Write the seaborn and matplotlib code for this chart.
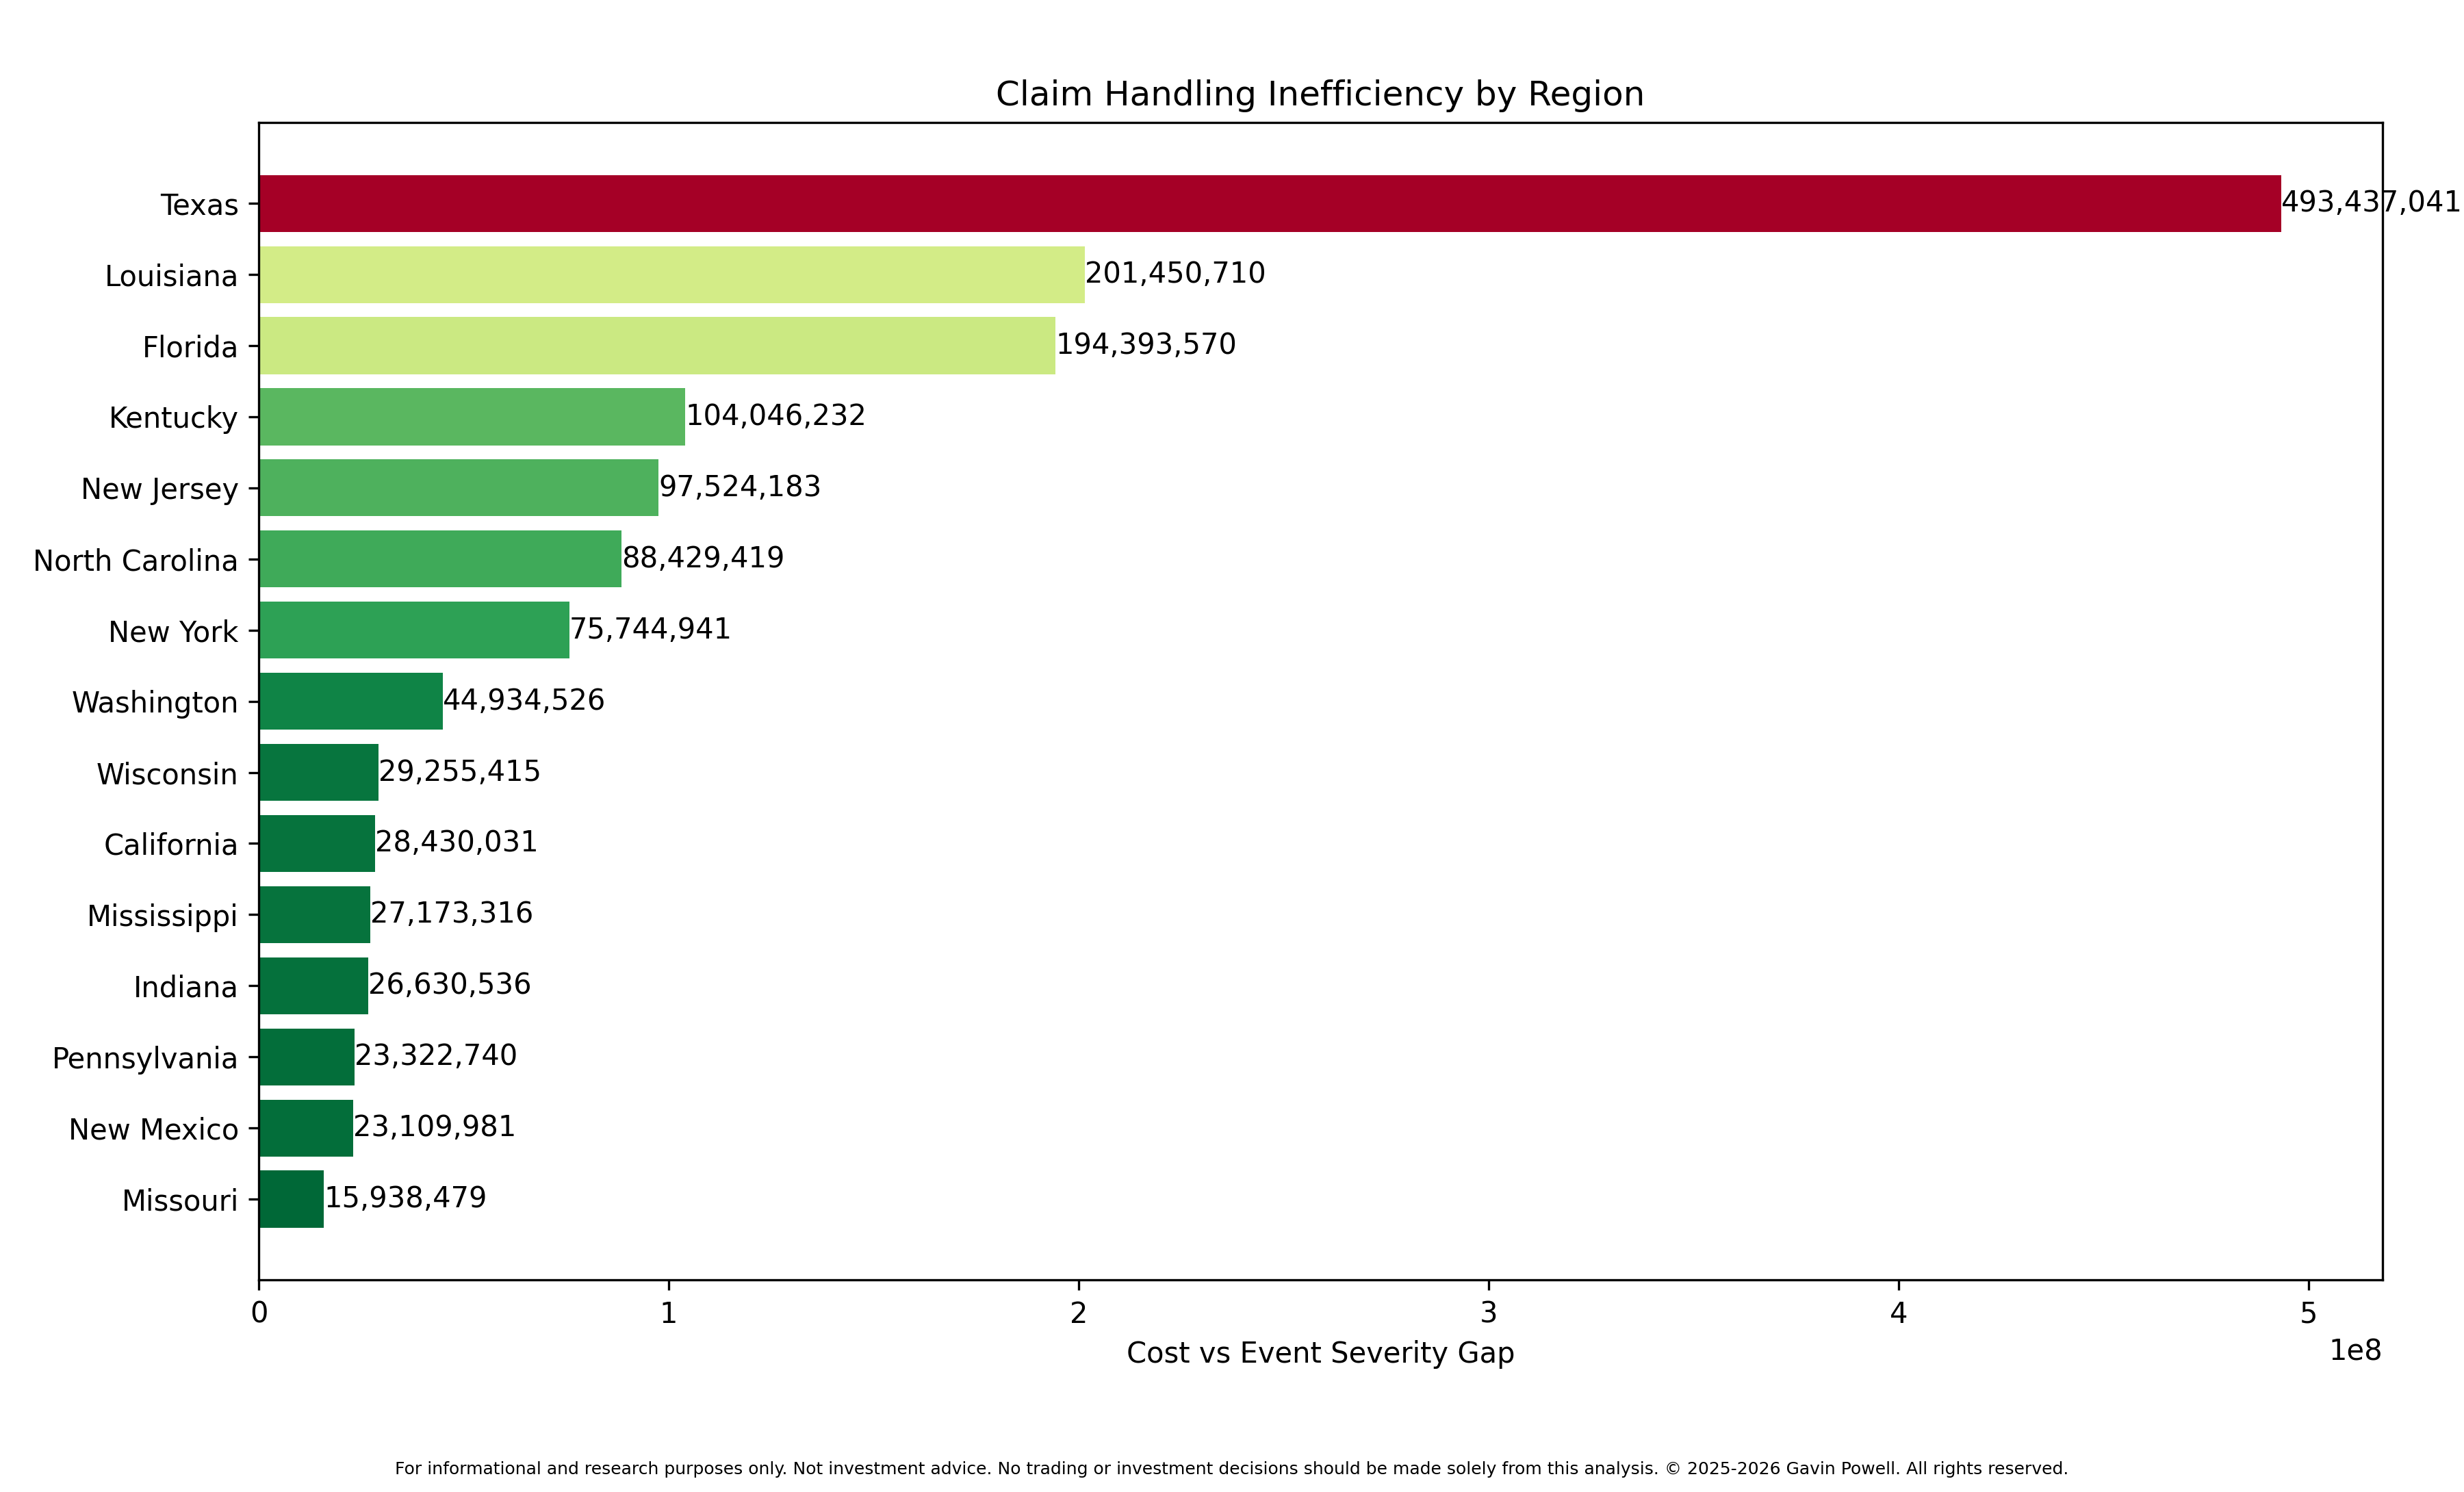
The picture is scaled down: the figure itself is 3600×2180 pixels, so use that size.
import matplotlib
matplotlib.use("Agg")
import matplotlib.pyplot as plt
import numpy as np
import pandas as pd
import seaborn as sns

regions = ["Texas", "Louisiana", "Florida", "Kentucky", "New Jersey", "North Carolina",
           "New York", "Washington", "Wisconsin", "California", "Mississippi", "Indiana",
           "Pennsylvania", "New Mexico", "Missouri"]
gaps = [493437041, 201450710, 194393570, 104046232, 97524183, 88429419, 75744941,
        44934526, 29255415, 28430031, 27173316, 26630536, 23322740, 23109981, 15938479]

df = pd.DataFrame({"region": regions, "gap": gaps})
vals = np.array(gaps, dtype=float)
norm = (vals - vals.min()) / (vals.max() - vals.min())
cmap = plt.get_cmap("RdYlGn_r")
palette = [cmap(v) for v in norm]

fig = plt.figure(figsize=(12, 7.2667), dpi=300)
ax = fig.add_axes([0.105, 0.142, 0.862, 0.776])
sns.barplot(data=df, x="gap", y="region", hue="region", palette=palette,
            legend=False, orient="h", width=0.8, saturation=1, ax=ax)
for c in ax.containers:
    ax.bar_label(c, labels=[f"{v:,.0f}" for v in c.datavalues], fontsize=10, padding=0)

n = len(regions)
ax.set_ylim(n - 1 + 1.14, -1.14)
ax.set_xlim(0, vals.max() * 1.05)
ax.set_title("Claim Handling Inefficiency by Region", fontsize=12)
ax.set_xlabel("Cost vs Event Severity Gap")
ax.set_ylabel("")
fig.text(0.5, 0.012, "For informational and research purposes only. Not investment advice. "
         "No trading or investment decisions should be made solely from this analysis. "
         "\u00a9 2025-2026 Gavin Powell. All rights reserved.", ha="center", fontsize=6)
fig.savefig("out.png", dpi=300)
